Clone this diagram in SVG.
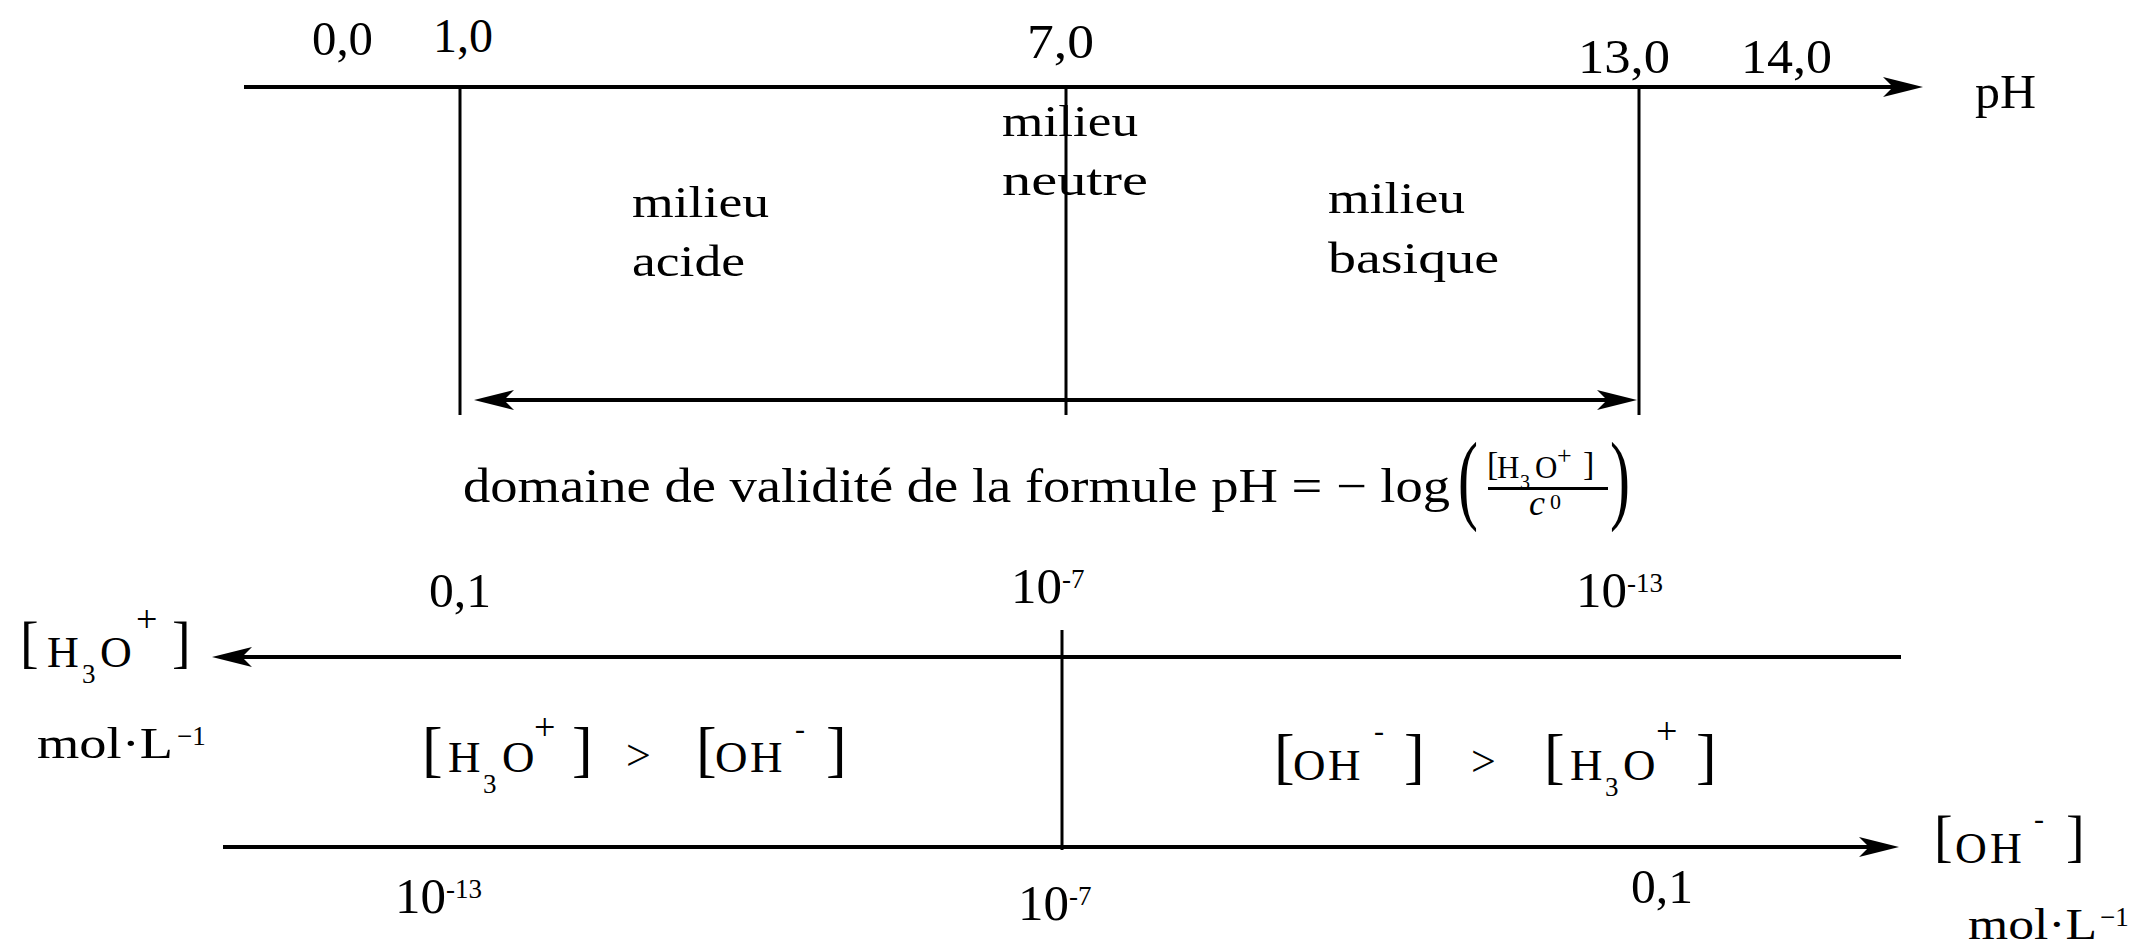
<svg xmlns="http://www.w3.org/2000/svg" width="2144" height="947" viewBox="0 0 2144 947">
<style>
text{font-family:'Liberation Serif','Times New Roman',serif;fill:#000}
.ax{stroke:#000;stroke-width:4;fill:none}
.vl{stroke:#000;stroke-width:3;fill:none}
.n{font-size:48px}
.m{font-size:44px}
.br{font-size:62px}
.sub{font-size:27px}
.sup{font-size:38px}
.ten{font-size:51px}
.exp{font-size:27px}
</style>
<defs>
<marker id="arr" markerUnits="userSpaceOnUse" markerWidth="40" markerHeight="20" viewBox="0 0 40 20" refX="32" refY="10" orient="auto-start-reverse">
<path d="M0,0 L40,10 L0,20 L10,10 Z" fill="#000"/>
</marker>
</defs>
<rect width="2144" height="947" fill="#fff"/>

<g id="connectors">
<line class="ax" x1="244" y1="87" x2="1915" y2="87" marker-end="url(#arr)"/>
<line class="vl" x1="460" y1="87" x2="460" y2="415"/>
<line class="vl" x1="1066" y1="87" x2="1066" y2="415"/>
<line class="vl" x1="1639" y1="87" x2="1639" y2="415"/>
<line class="ax" x1="482" y1="400" x2="1629" y2="400" marker-start="url(#arr)" marker-end="url(#arr)"/>
<line class="ax" x1="1901" y1="657" x2="220" y2="657" marker-end="url(#arr)"/>
<line class="ax" x1="223" y1="847" x2="1891" y2="847" marker-end="url(#arr)"/>
<line class="vl" x1="1062" y1="630" x2="1062" y2="850"/>
</g>

<g id="ph-scale">
<text class="n" x="312" y="55" textLength="61" lengthAdjust="spacingAndGlyphs">0,0</text>
<text class="n" x="433" y="52" textLength="60" lengthAdjust="spacingAndGlyphs">1,0</text>
<text class="n" x="1027" y="58" textLength="67" lengthAdjust="spacingAndGlyphs">7,0</text>
<text class="n" x="1578" y="73" textLength="92" lengthAdjust="spacingAndGlyphs">13,0</text>
<text class="n" x="1741" y="73" textLength="91" lengthAdjust="spacingAndGlyphs">14,0</text>
<text class="n" x="1975" y="108" textLength="61" lengthAdjust="spacingAndGlyphs">pH</text>
</g>

<g id="milieu-acide">
<text class="m" x="632" y="217" textLength="137" lengthAdjust="spacingAndGlyphs">milieu</text>
<text class="m" x="632" y="276" textLength="113" lengthAdjust="spacingAndGlyphs">acide</text>
</g>
<g id="milieu-neutre">
<text class="m" x="1002" y="136" textLength="136" lengthAdjust="spacingAndGlyphs">milieu</text>
<text class="m" x="1002" y="195" textLength="146" lengthAdjust="spacingAndGlyphs">neutre</text>
</g>
<g id="milieu-basique">
<text class="m" x="1328" y="213" textLength="137" lengthAdjust="spacingAndGlyphs">milieu</text>
<text class="m" x="1328" y="273" textLength="171" lengthAdjust="spacingAndGlyphs">basique</text>
</g>

<g id="formule">
<text x="463" y="502" font-size="48" textLength="987" lengthAdjust="spacingAndGlyphs">domaine de validité de la formule pH = − log</text>
<text transform="translate(1458,511) scale(0.6,1)" x="0" y="0" font-size="100">(</text>
<text transform="translate(1610,511) scale(0.6,1)" x="0" y="0" font-size="100">)</text>
<text x="1487" y="475" font-size="34">[</text>
<text x="1497" y="478" font-size="31">H</text>
<text x="1520" y="489" font-size="20">3</text>
<text x="1535" y="478" font-size="31">O</text>
<text x="1557" y="464" font-size="26">+</text>
<text x="1583" y="475" font-size="34">]</text>
<line x1="1488" y1="488.5" x2="1608" y2="488.5" stroke="#000" stroke-width="3"/>
<text x="1529" y="515" font-size="36" font-style="italic">c</text>
<text x="1550" y="509" font-size="22">0</text>
</g>

<g id="h3o-scale">
<text class="n" x="429" y="607" textLength="62" lengthAdjust="spacingAndGlyphs">0,1</text>
<text x="1011" y="603"><tspan class="ten">10</tspan><tspan class="exp" dy="-15">-7</tspan></text>
<text x="1576" y="607"><tspan class="ten">10</tspan><tspan class="exp" dy="-15">-13</tspan></text>
</g>

<g id="h3o-label">
<text x="20" y="661" font-size="56">[</text>
<text class="m" x="47" y="667">H</text>
<text class="sub" x="82" y="683">3</text>
<text class="m" x="100" y="667">O</text>
<text class="sup" x="136" y="632">+</text>
<text x="172" y="661" font-size="56">]</text>
<text class="m" x="37" y="758" textLength="136" lengthAdjust="spacingAndGlyphs">mol·L</text>
<text x="177" y="745" font-size="27">−1</text>
</g>

<g id="compare-acid">
<text class="br" x="422" y="770">[</text>
<text x="448" y="772" font-size="45">H</text>
<text class="sub" x="483" y="793">3</text>
<text x="502" y="772" font-size="45">O</text>
<text class="sup" x="534" y="740">+</text>
<text class="br" x="572" y="770">]</text>
<text x="626" y="770" font-size="44">&gt;</text>
<text class="br" x="696" y="770">[</text>
<text x="715" y="772" font-size="45">O</text>
<text x="750" y="772" font-size="45">H</text>
<text x="795" y="739" font-size="30">-</text>
<text class="br" x="826" y="770">]</text>
</g>

<g id="compare-base">
<text class="br" x="1274" y="777">[</text>
<text x="1293" y="780" font-size="45">O</text>
<text x="1328" y="780" font-size="45">H</text>
<text x="1374" y="741" font-size="30">-</text>
<text class="br" x="1404" y="777">]</text>
<text x="1471" y="776" font-size="44">&gt;</text>
<text class="br" x="1544" y="777">[</text>
<text x="1570" y="780" font-size="45">H</text>
<text class="sub" x="1605" y="796">3</text>
<text x="1623" y="780" font-size="45">O</text>
<text class="sup" x="1656" y="744">+</text>
<text class="br" x="1696" y="777">]</text>
</g>

<g id="oh-scale">
<text x="395" y="913"><tspan class="ten">10</tspan><tspan class="exp" dy="-15">-13</tspan></text>
<text x="1018" y="920"><tspan class="ten">10</tspan><tspan class="exp" dy="-15">-7</tspan></text>
<text class="n" x="1631" y="903" textLength="62" lengthAdjust="spacingAndGlyphs">0,1</text>
</g>

<g id="oh-label">
<text x="1934" y="855" font-size="56">[</text>
<text class="m" x="1955" y="863">O</text>
<text class="m" x="1990" y="863">H</text>
<text x="2034" y="829" font-size="30">-</text>
<text x="2066" y="855" font-size="56">]</text>
<text class="m" x="1968" y="939" textLength="129" lengthAdjust="spacingAndGlyphs">mol·L</text>
<text x="2100" y="926" font-size="27">−1</text>
</g>
</svg>
